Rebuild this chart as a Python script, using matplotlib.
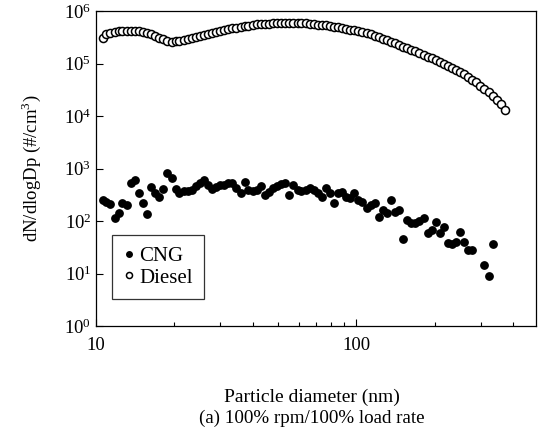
import numpy as np
import matplotlib
matplotlib.use("Agg")
import matplotlib.pyplot as plt
from matplotlib.ticker import LogLocator, NullFormatter, NullLocator

plt.rcParams["font.family"] = ["Liberation Serif", "DejaVu Serif"]
plt.rcParams["mathtext.fontset"] = "custom"
plt.rcParams["mathtext.rm"] = "Liberation Serif"

# SMPS channel mid-point diameters (nm)
diam = [10.6, 10.9, 11.3, 11.8, 12.2, 12.6, 13.1, 13.6, 14.1, 14.6,
        15.1, 15.7, 16.3, 16.8, 17.5, 18.1, 18.8, 19.5, 20.2, 20.9,
        21.7, 22.5, 23.3, 24.1, 25.0, 25.9, 26.9, 27.9, 28.9, 30.0,
        31.1, 32.2, 33.4, 34.6, 35.9, 37.2, 38.5, 40.0, 41.4, 42.9,
        44.5, 46.1, 47.8, 49.6, 51.4, 53.3, 55.2, 57.3, 59.4, 61.5,
        63.8, 66.1, 68.5, 71.0, 73.7, 76.4, 79.1, 82.0, 85.1, 88.2,
        91.4, 94.7, 98.2, 101.8, 105.5, 109.4, 113.4, 117.6, 121.9, 126.3,
        131.0, 135.8, 140.7, 145.9, 151.2, 156.8, 162.5, 168.5, 174.7, 181.1,
        187.7, 194.6, 201.7, 209.1, 216.7, 224.7, 232.9, 241.4, 250.3, 259.5,
        269.0, 278.8, 289.0, 299.6, 310.6, 322.0, 333.8, 346.0, 358.7, 371.8]

diesel = [3.02e5, 3.63e5, 3.89e5, 3.98e5, 4.07e5, 4.07e5, 4.07e5, 4.07e5, 4.07e5, 4.07e5,
          3.98e5, 3.89e5, 3.72e5, 3.39e5, 3.09e5, 2.88e5, 2.69e5, 2.60e5, 2.63e5, 2.69e5,
          2.75e5, 2.88e5, 3.02e5, 3.16e5, 3.31e5, 3.47e5, 3.63e5, 3.80e5, 3.98e5, 4.17e5,
          4.37e5, 4.52e5, 4.68e5, 4.84e5, 5.01e5, 5.13e5, 5.25e5, 5.37e5, 5.56e5, 5.62e5,
          5.69e5, 5.75e5, 5.82e5, 5.89e5, 5.92e5, 5.96e5, 5.98e5, 5.98e5, 5.96e5, 5.92e5,
          5.86e5, 5.75e5, 5.62e5, 5.50e5, 5.43e5, 5.31e5, 5.19e5, 5.01e5, 4.90e5, 4.73e5,
          4.57e5, 4.42e5, 4.27e5, 4.12e5, 3.98e5, 3.85e5, 3.63e5, 3.39e5, 3.16e5, 2.95e5,
          2.75e5, 2.60e5, 2.45e5, 2.24e5, 2.09e5, 1.95e5, 1.82e5, 1.70e5, 1.58e5, 1.45e5,
          1.35e5, 1.26e5, 1.17e5, 1.08e5, 9.9e4, 9.1e4, 8.3e4, 7.6e4, 6.9e4, 6.2e4,
          5.5e4, 4.9e4, 4.4e4, 3.8e4, 3.3e4, 2.9e4, 2.45e4, 2.04e4, 1.70e4, 1.32e4]

nan = float("nan")
cng = [251, 228, 207, 114, 142, 220, 200, 530, 600, 340,
       220, 135, 445, 340, 288, 407, 820, 660, 407, 340,
       372, 380, 390, 464, 530, 600, 490, 407, 445, 490,
       490, 530, 530, 425, 340, 550, 390, 372, 390, 464,
       316, 355, 425, 464, 500, 530, 316, 490, 390, 372,
       390, 425, 390, 340, 288, 425, 340, 220, 340, 355,
       288, 275, 340, 251, 230, 178, 200, 220, 120, 162,
       142, 251, 148, 162, 45, 105, 90, 90, 100, 115,
       60, 68, 96, 58, 78, 38, 37, 39, 63, 40,
       28, 28, nan, nan, 14.5, 9.1, 36, nan, nan, nan]

fig = plt.figure(figsize=(5.4, 4.28), dpi=100)
ax = fig.add_axes([0.178, 0.2383, 0.8146, 0.736])

ax.plot(diam, cng, "o", ms=5.3, mfc="black", mec="black", label="CNG")
ax.plot(diam, diesel, "o", ms=5.8, mfc="white", mec="black", mew=1.1, label="Diesel")

ax.set_xscale("log")
ax.set_yscale("log")
ax.set_xlim(10, 490)
ax.set_ylim(1, 1e6)
ax.set_xticks([10, 100])
ax.set_xticklabels(["10", "100"])
ax.xaxis.set_minor_locator(LogLocator(base=10, subs=np.arange(2, 10)))
ax.xaxis.set_minor_formatter(NullFormatter())
ax.set_yticks([1e0, 1e1, 1e2, 1e3, 1e4, 1e5, 1e6])
ax.yaxis.set_minor_locator(NullLocator())
ax.tick_params(which="both", direction="in", top=False, right=False, labelsize=13.5)
ax.tick_params(which="major", length=5, width=0.8)
ax.tick_params(which="minor", length=3, width=0.8)
ax.tick_params(axis="x", pad=8)
for s in ax.spines.values():
    s.set_linewidth(0.9)

ax.set_ylabel("dN/dlogDp (#/cm$^3$)", fontsize=13.5, labelpad=15)

leg = ax.legend(loc="upper left", bbox_to_anchor=(0.036, 0.289), fontsize=15,
                frameon=True, fancybox=False, edgecolor="black", handletextpad=0.25,
                handlelength=0.5, borderpad=0.55, borderaxespad=0, labelspacing=0.1,
                markerscale=0.75)
leg.get_frame().set_linewidth(0.9)

fig.text(0.578, 1 - 397 / 428, "Particle diameter (nm)", ha="center", va="center", fontsize=14)
fig.text(0.578, 1 - 418 / 428, "(a) 100% rpm/100% load rate", ha="center", va="center", fontsize=13.7)

fig.savefig("out.png", dpi=100)
